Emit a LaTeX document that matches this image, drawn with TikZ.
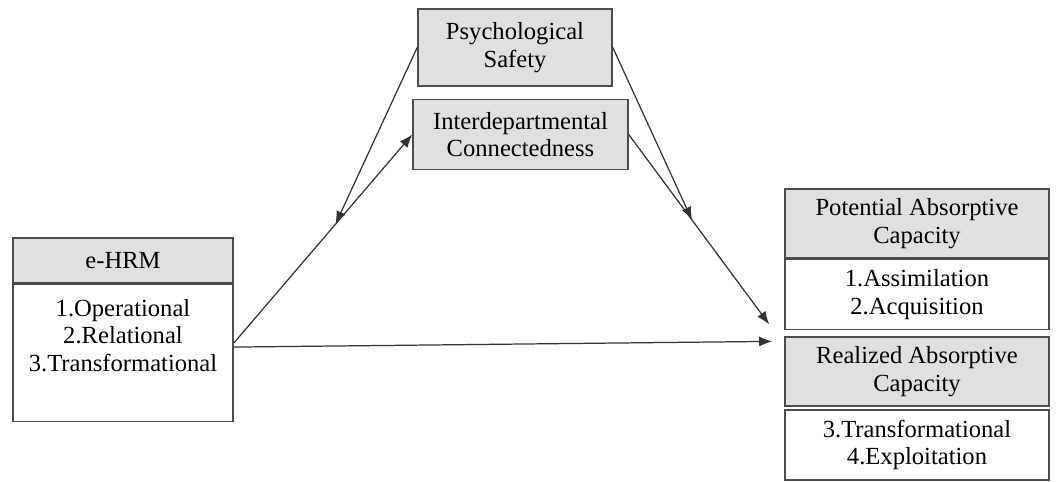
\documentclass[tikz,border=0pt]{standalone}
\usepackage{fontspec}
\setmainfont{Liberation Serif}
\usetikzlibrary{arrows, arrows.meta, positioning}

\begin{document}
\begin{tikzpicture}[
    headbox/.style={rectangle, draw=black!70, line width=0.9pt, fill=black!12, text centered, align=center, inner sep=2pt, font=\fontsize{14}{15.6}\selectfont},
    listbox/.style={headbox, fill=white},
    arrow/.style={line width=0.7pt, draw=black!80, -{Latex[length=2.6mm, width=2mm]}}
]
\useasboundingbox (0,0) rectangle (21.12,9.64);

% e-HRM
\node[headbox, minimum width=4.4cm, minimum height=0.9cm] (ehrm) at (2.46,4.43) {e-HRM};
\node[listbox, below=0pt of ehrm, minimum width=4.4cm, minimum height=2.74cm] (ehrmdim) {1.Operational\\2.Relational\\3.Transformational\\[0.16cm]};

% Moderator
\node[headbox, minimum width=3.88cm, minimum height=1.54cm] (psych) at (10.3,8.69) {Psychological\\Safety};

% Mediator
\node[headbox, below=0.24cm of psych, xshift=0.11cm, minimum width=4.3cm, minimum height=1.4cm] (connect) {Interdepartmental\\Connectedness};

% Absorptive capacity
\node[headbox, minimum width=5.28cm, minimum height=1.38cm] (pacap) at (18.34,5.17) {Potential Absorptive\\Capacity};
\node[listbox, below=0pt of pacap, minimum width=5.28cm, minimum height=1.4cm] (pacapdim) {1.Assimilation\\2.Acquisition};
\node[headbox, below=0.12cm of pacapdim, minimum width=5.28cm, minimum height=1.38cm] (racap) {Realized Absorptive\\Capacity};
\node[listbox, below=0.04cm of racap, minimum width=5.28cm, minimum height=1.4cm] (racapdim) {3.Transformational\\4.Exploitation};

% Arrows
\draw[arrow] ([yshift=0.2cm]ehrmdim.east) -- (connect.west) coordinate[pos=0.57] (modleft);
\draw[arrow] ([yshift=0.12cm]ehrmdim.east) -- ([xshift=-0.24cm,yshift=-0.1cm]racap.north west);
\draw[arrow] (connect.east) -- ([xshift=-0.3cm,yshift=0.12cm]pacapdim.south west) coordinate[pos=0.45] (modright);
\draw[arrow] (psych.west) -- (modleft);
\draw[arrow] (psych.east) -- (modright);

\end{tikzpicture}
\end{document}
